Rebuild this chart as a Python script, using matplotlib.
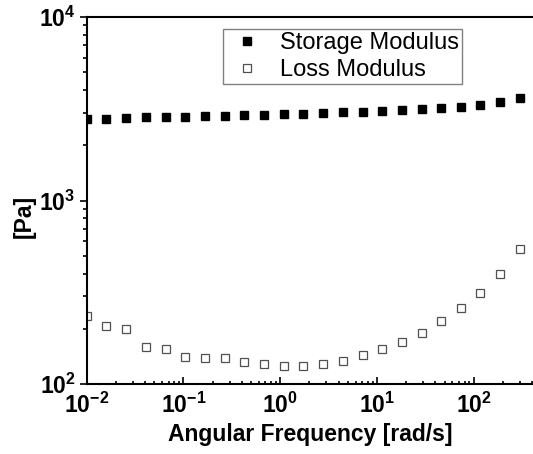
import matplotlib.pyplot as plt
import numpy as np
from matplotlib.ticker import LogLocator, FuncFormatter, NullFormatter

# angular frequency [rad/s]
freq = [0.01, 0.016, 0.0255, 0.0408, 0.0652, 0.104, 0.166, 0.266, 0.425, 0.679,
        1.08, 1.73, 2.77, 4.42, 7.07, 11.3, 18.0, 28.8, 46.0, 73.5, 117, 188, 300]
# storage modulus G' [Pa]
storage = [2770, 2780, 2816, 2841, 2851, 2862, 2877, 2898, 2913, 2931,
           2950, 2972, 2999, 3025, 3048, 3075, 3114, 3141, 3193, 3245, 3303, 3429, 3632]
# loss modulus G'' [Pa]
loss = [235, 208, 199, 160, 155, 141, 139, 139, 131, 128,
        126, 126, 129, 134, 143, 155, 169, 190, 220, 261, 314, 398, 542]

plt.rcParams['font.family'] = 'Liberation Sans'
plt.rcParams['mathtext.fontset'] = 'custom'
plt.rcParams['mathtext.rm'] = 'Liberation Sans:bold'
plt.rcParams['mathtext.it'] = 'Liberation Sans:bold'
plt.rcParams['mathtext.bf'] = 'Liberation Sans:bold'
plt.rcParams['axes.unicode_minus'] = False


def pow10(v, pos):
    return r'$\mathbf{10^{%d}}$' % int(round(np.log10(v)))


fig = plt.figure(figsize=(5.33, 4.54), dpi=100)
ax = fig.add_axes([86.7 / 533, 70 / 454, (533 - 86.7) / 533, 367 / 454])

ax.plot(freq, storage, ls='none', marker='s', ms=6.3, mfc='black', mec='black',
        label='Storage Modulus')
ax.plot(freq, loss, ls='none', marker='s', ms=6.3, mfc='white', mec='#505050',
        mew=0.9, label='Loss Modulus')

ax.set_xscale('log')
ax.set_yscale('log')
ax.set_xlim(0.01, 408)
ax.set_ylim(100, 10000)

for a in (ax.xaxis, ax.yaxis):
    a.set_major_locator(LogLocator(base=10, numticks=10))
    a.set_minor_locator(LogLocator(base=10, subs=range(2, 10), numticks=20))
    a.set_major_formatter(FuncFormatter(pow10))
    a.set_minor_formatter(NullFormatter())

ax.tick_params(axis='x', which='both', direction='in', labelsize=16.5, pad=6, width=1.2)
ax.tick_params(axis='x', which='major', length=5)
ax.tick_params(axis='x', which='minor', length=2.5)
ax.tick_params(axis='y', which='both', direction='out', labelsize=16.5, pad=3, width=1.2)
ax.tick_params(axis='y', which='major', length=5)
ax.tick_params(axis='y', which='minor', length=3)

ax.spines['right'].set_visible(False)
for s in ('left', 'bottom', 'top'):
    ax.spines[s].set_linewidth(1.5)

ax.set_xlabel('Angular Frequency [rad/s]', fontsize=16.5, fontweight='bold', labelpad=4)
ax.set_ylabel('[Pa]', fontsize=16.5, fontweight='bold')
ax.yaxis.set_label_coords(-0.115, 0.456)

leg = ax.legend(loc='upper left', bbox_to_anchor=(0.305, 0.967), fontsize=17,
                numpoints=1, handlelength=1.8, handletextpad=0.5, borderpad=0.12,
                labelspacing=0.22, fancybox=False, framealpha=1, borderaxespad=0)
leg.get_frame().set_edgecolor('#808080')
leg.get_frame().set_linewidth(1.0)

fig.savefig('out.png', dpi=100)
